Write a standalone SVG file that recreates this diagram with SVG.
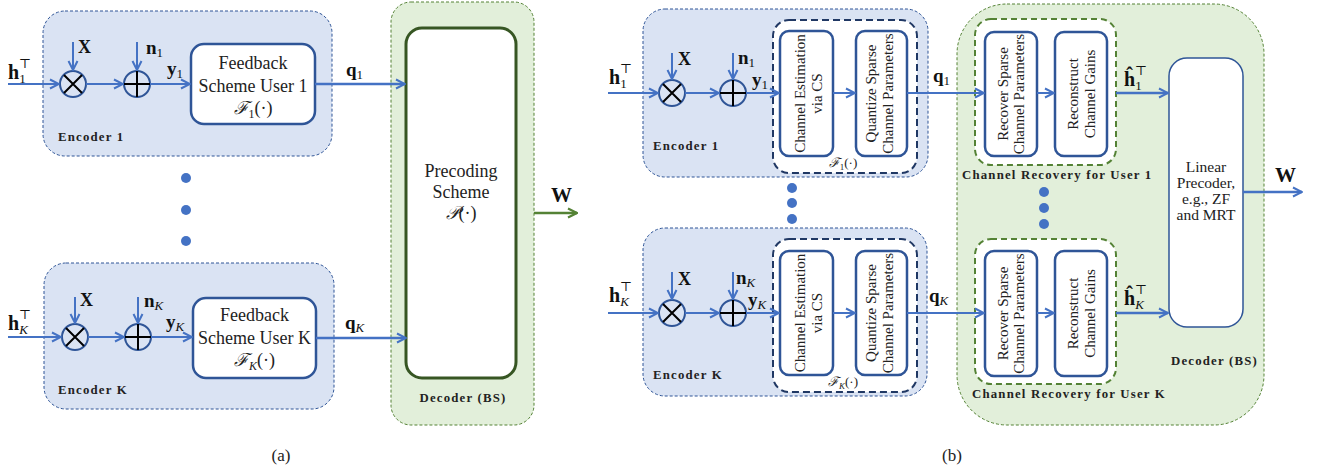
<svg xmlns="http://www.w3.org/2000/svg" width="1317" height="472" viewBox="0 0 1317 472">
<style>
.enc{fill:#DAE3F3;stroke:#2F5597;stroke-width:1;stroke-dasharray:3 2}
.dec{fill:#E2EFDA;stroke:#548235;stroke-width:1;stroke-dasharray:3 2}
.blk{fill:#fff;stroke:#2F5597;stroke-width:2.5}
.fdash{fill:#fff;stroke:#203864;stroke-width:2;stroke-dasharray:7 4}
.gdash{fill:#fff;stroke:#548235;stroke-width:2;stroke-dasharray:6 4}
.ar{stroke:#4472C4;stroke-width:2;fill:none}
.arw{stroke:#4472C4;stroke-width:2.6;fill:none}
.cir{fill:none;stroke:#2F5597;stroke-width:2}
.op{stroke:#000;stroke-width:2}
.t{font-family:"Liberation Serif","DejaVu Serif",serif;fill:#222}
.m{font-family:"Liberation Serif","DejaVu Serif",serif;fill:#111;font-weight:bold}
.s{font-weight:normal;font-style:italic}
.n{font-weight:normal}
.lb{font-family:"Liberation Serif","DejaVu Serif",serif;font-weight:bold;font-size:12.8px;letter-spacing:1.2px;fill:#222}
.dot{fill:#4472C4}
</style>
<defs>
<marker id="ah" viewBox="0 0 12 12" refX="11" refY="6" markerWidth="12" markerHeight="12" orient="auto" markerUnits="userSpaceOnUse"><path d="M2,1.5 L11,6 L2,10.5" fill="none" stroke="#4472C4" stroke-width="2"/></marker>
<marker id="ahg" viewBox="0 0 12 12" refX="11" refY="6" markerWidth="12" markerHeight="12" orient="auto" markerUnits="userSpaceOnUse"><path d="M2,1.5 L11,6 L2,10.5" fill="none" stroke="#548235" stroke-width="2.2"/></marker>
</defs>

<!-- ===== (a) ===== -->
<g id="a-decoder">
<rect class="dec" x="391" y="2" width="143" height="423" rx="20"/>
<text class="lb" x="463" y="402" text-anchor="middle">Decoder (BS)</text>
</g>
<g id="a-enc1">
<rect class="enc" x="43" y="11" width="289" height="145" rx="22"/>
<text class="lb" x="58" y="141">Encoder 1</text>
</g>
<g id="a-encK">
<rect class="enc" x="44" y="263" width="290" height="146" rx="22"/>
<text class="lb" x="58" y="394">Encoder K</text>
</g>
<g id="a-mul1"><circle class="cir" cx="73" cy="84" r="13"/><path class="op" d="M64,75 L82,93 M82,75 L64,93"/></g>
<g id="a-add1"><circle class="cir" cx="137" cy="84" r="13"/><path class="op" d="M124,84 H150 M137,71 V97"/></g>
<g id="a-mulK"><circle class="cir" cx="75" cy="337" r="13"/><path class="op" d="M66,328 L84,346 M84,328 L66,346"/></g>
<g id="a-addK"><circle class="cir" cx="138" cy="337" r="13"/><path class="op" d="M125,337 H151 M138,324 V350"/></g>
<g id="a-fb1">
<rect class="blk" x="191" y="44" width="124" height="80" rx="13"/>
<text class="t" font-size="18" text-anchor="middle"><tspan x="253" y="69">Feedback</tspan><tspan x="253" y="92">Scheme User 1</tspan></text>
<text class="t" font-size="18" x="253" y="114" text-anchor="middle"><tspan font-style="italic">ℱ</tspan><tspan font-size="12" dy="4">1</tspan><tspan dy="-4">(·)</tspan></text>
</g>
<g id="a-fbK">
<rect class="blk" x="193" y="298" width="123" height="80" rx="13"/>
<text class="t" font-size="18" text-anchor="middle"><tspan x="254.5" y="321">Feedback</tspan><tspan x="254.5" y="344">Scheme User K</tspan></text>
<text class="t" font-size="18" x="254.5" y="366" text-anchor="middle"><tspan font-style="italic">ℱ</tspan><tspan font-size="12" font-style="italic" dy="4">K</tspan><tspan dy="-4">(·)</tspan></text>
</g>
<g id="a-prec">
<rect x="406" y="28" width="110" height="350" rx="16" fill="#fff" stroke="#375623" stroke-width="3"/>
<text class="t" font-size="18" text-anchor="middle"><tspan x="461" y="177">Precoding</tspan><tspan x="461" y="198">Scheme</tspan></text>
<text class="t" font-size="18" x="461" y="219" text-anchor="middle"><tspan font-style="italic">𝒫</tspan>(·)</text>
</g>
<g id="a-dots"><circle class="dot" cx="186" cy="178" r="5"/><circle class="dot" cx="186" cy="210" r="5"/><circle class="dot" cx="186" cy="241" r="5"/></g>

<g id="a-connectors">
<line class="ar" x1="8" y1="84" x2="59" y2="84" marker-end="url(#ah)"/>
<line class="ar" x1="73" y1="42" x2="73" y2="70" marker-end="url(#ah)"/>
<line class="ar" x1="86" y1="84" x2="123" y2="84" marker-end="url(#ah)"/>
<line class="ar" x1="137" y1="42" x2="137" y2="70" marker-end="url(#ah)"/>
<line class="ar" x1="150" y1="84" x2="190" y2="84" marker-end="url(#ah)"/>
<line class="arw" x1="315" y1="84" x2="405" y2="84" marker-end="url(#ah)"/>
<line class="ar" x1="8" y1="337" x2="61" y2="337" marker-end="url(#ah)"/>
<line class="ar" x1="75" y1="297" x2="75" y2="323" marker-end="url(#ah)"/>
<line class="ar" x1="88" y1="337" x2="124" y2="337" marker-end="url(#ah)"/>
<line class="ar" x1="138" y1="297" x2="138" y2="323" marker-end="url(#ah)"/>
<line class="ar" x1="151" y1="337" x2="192" y2="337" marker-end="url(#ah)"/>
<line class="arw" x1="316" y1="338" x2="406" y2="338" marker-end="url(#ah)"/>
<line x1="534" y1="213" x2="577" y2="213" stroke="#548235" stroke-width="2.6" marker-end="url(#ahg)"/>
</g>
<g id="a-labels">
<text class="m" font-size="20" x="8" y="79">h<tspan class="n" font-size="13" dy="4">1</tspan><tspan class="n" font-size="13" dx="-7" dy="-15">⊤</tspan></text>
<text class="m" font-size="18" x="78" y="53">X</text>
<text class="m" font-size="19" x="146" y="54">n<tspan class="n" font-size="13" dy="3">1</tspan></text>
<text class="m" font-size="19" x="167" y="75">y<tspan class="n" font-size="13" dy="3">1</tspan></text>
<text class="m" font-size="19" x="346" y="76">q<tspan class="n" font-size="13" dy="3">1</tspan></text>
<text class="m" font-size="20" x="8" y="330">h<tspan class="s" font-size="13" dy="4">K</tspan><tspan class="n" font-size="13" dx="-9" dy="-15">⊤</tspan></text>
<text class="m" font-size="18" x="80" y="306">X</text>
<text class="m" font-size="19" x="144" y="307">n<tspan class="s" font-size="13" dy="3">K</tspan></text>
<text class="m" font-size="19" x="166" y="328">y<tspan class="s" font-size="13" dy="3">K</tspan></text>
<text class="m" font-size="19" x="345" y="329">q<tspan class="s" font-size="13" dy="3">K</tspan></text>
<text class="m" font-size="21" x="551" y="202">W</text>
<text class="t" font-size="17" x="281" y="461" text-anchor="middle">(a)</text>
</g>

<!-- ===== (b) ===== -->
<g id="b-decoder">
<rect class="dec" x="957" y="4" width="307" height="421" rx="50"/>
<text class="lb" x="1171" y="365">Decoder (BS)</text>
</g>
<g id="b-enc1">
<rect class="enc" x="643" y="9" width="285" height="168" rx="22"/>
<text class="lb" x="653" y="150">Encoder 1</text>
</g>
<g id="b-encK">
<rect class="enc" x="643" y="228" width="284" height="168" rx="22"/>
<text class="lb" x="653" y="379">Encoder K</text>
</g>
<g id="b-mul1"><circle class="cir" cx="672" cy="93" r="13"/><path class="op" d="M663,84 L681,102 M681,84 L663,102"/></g>
<g id="b-add1"><circle class="cir" cx="733" cy="93" r="13"/><path class="op" d="M720,93 H746 M733,80 V106"/></g>
<g id="b-mulK"><circle class="cir" cx="672" cy="313" r="13"/><path class="op" d="M663,304 L681,322 M681,304 L663,322"/></g>
<g id="b-addK"><circle class="cir" cx="733" cy="313" r="13"/><path class="op" d="M720,313 H746 M733,300 V326"/></g>

<g id="b-F1">
<rect class="fdash" x="773" y="20" width="144" height="153" rx="16"/>
<text class="t" font-size="13" x="843" y="167" text-anchor="middle"><tspan font-style="italic">ℱ</tspan><tspan font-size="9" dy="3">1</tspan><tspan dy="-3">(·)</tspan></text>
</g>
<g id="b-ce1">
<rect class="blk" x="780" y="31" width="53" height="125" rx="9"/>
<text class="t" font-size="15" text-anchor="middle" transform="translate(806.5,93.5) rotate(-90)"><tspan x="0" y="-1.5">Channel Estimation</tspan><tspan x="0" y="15">via CS</tspan></text>
</g>
<g id="b-qz1">
<rect class="blk" x="856" y="31" width="51" height="125" rx="9"/>
<text class="t" font-size="15" text-anchor="middle" transform="translate(881.5,93.5) rotate(-90)"><tspan x="0" y="-6">Quantize Sparse</tspan><tspan x="0" y="11">Channel Parameters</tspan></text>
</g>
<g id="b-FK">
<rect class="fdash" x="773" y="239" width="144" height="153" rx="16"/>
<text class="t" font-size="13" x="843" y="386" text-anchor="middle"><tspan font-style="italic">ℱ</tspan><tspan font-size="9" font-style="italic" dy="3">K</tspan><tspan dy="-3">(·)</tspan></text>
</g>
<g id="b-ceK">
<rect class="blk" x="780" y="251" width="53" height="124" rx="9"/>
<text class="t" font-size="15" text-anchor="middle" transform="translate(806.5,313) rotate(-90)"><tspan x="0" y="-1.5">Channel Estimation</tspan><tspan x="0" y="15">via CS</tspan></text>
</g>
<g id="b-qzK">
<rect class="blk" x="856" y="251" width="51" height="124" rx="9"/>
<text class="t" font-size="15" text-anchor="middle" transform="translate(881.5,313) rotate(-90)"><tspan x="0" y="-6">Quantize Sparse</tspan><tspan x="0" y="11">Channel Parameters</tspan></text>
</g>
<g id="b-dotsL"><circle class="dot" cx="792" cy="188" r="5"/><circle class="dot" cx="792" cy="203" r="5"/><circle class="dot" cx="792" cy="219" r="5"/></g>

<g id="b-cr1">
<rect class="gdash" x="975" y="19" width="141" height="146" rx="16"/>
<text class="lb" x="962" y="179">Channel Recovery for User 1</text>
</g>
<g id="b-rec1">
<rect class="blk" x="985" y="32" width="52" height="124" rx="9"/>
<text class="t" font-size="15" text-anchor="middle" transform="translate(1011,94) rotate(-90)"><tspan x="0" y="-3">Recover Sparse</tspan><tspan x="0" y="13">Channel Parameters</tspan></text>
</g>
<g id="b-rcg1">
<rect class="blk" x="1055" y="32" width="52" height="124" rx="9"/>
<text class="t" font-size="15" text-anchor="middle" transform="translate(1081,94) rotate(-90)"><tspan x="0" y="-3">Reconstruct</tspan><tspan x="0" y="13.5">Channel Gains</tspan></text>
</g>
<g id="b-crK">
<rect class="gdash" x="975" y="239" width="141" height="145" rx="16"/>
<text class="lb" x="972" y="398">Channel Recovery for User K</text>
</g>
<g id="b-recK">
<rect class="blk" x="985" y="251" width="52" height="125" rx="9"/>
<text class="t" font-size="15" text-anchor="middle" transform="translate(1011,313.5) rotate(-90)"><tspan x="0" y="-3">Recover Sparse</tspan><tspan x="0" y="13">Channel Parameters</tspan></text>
</g>
<g id="b-rcgK">
<rect class="blk" x="1055" y="251" width="52" height="125" rx="9"/>
<text class="t" font-size="15" text-anchor="middle" transform="translate(1081,313.5) rotate(-90)"><tspan x="0" y="-3">Reconstruct</tspan><tspan x="0" y="13.5">Channel Gains</tspan></text>
</g>
<g id="b-dotsR"><circle class="dot" cx="1044" cy="192" r="5"/><circle class="dot" cx="1044" cy="208" r="5"/><circle class="dot" cx="1044" cy="224" r="5"/></g>
<g id="b-lin">
<rect x="1169" y="58" width="74" height="269" rx="18" fill="#fff" stroke="#2F5597" stroke-width="1.5"/>
<text class="t" font-size="15.5" text-anchor="middle"><tspan x="1206" y="172">Linear</tspan><tspan x="1206" y="188">Precoder,</tspan><tspan x="1206" y="204">e.g., ZF</tspan><tspan x="1206" y="220">and MRT</tspan></text>
</g>

<g id="b-connectors">
<line class="ar" x1="608" y1="93" x2="658" y2="93" marker-end="url(#ah)"/>
<line class="ar" x1="672" y1="53" x2="672" y2="79" marker-end="url(#ah)"/>
<line class="ar" x1="685" y1="93" x2="719" y2="93" marker-end="url(#ah)"/>
<line class="ar" x1="733" y1="53" x2="733" y2="79" marker-end="url(#ah)"/>
<line class="ar" x1="746" y1="93" x2="779" y2="93" marker-end="url(#ah)"/>
<line class="ar" x1="833" y1="93" x2="855" y2="93" marker-end="url(#ah)"/>
<line class="ar" x1="907" y1="93" x2="984" y2="93" marker-end="url(#ah)"/>
<line class="ar" x1="1037" y1="93" x2="1054" y2="93" marker-end="url(#ah)"/>
<line class="arw" x1="1116" y1="93" x2="1168" y2="93" marker-end="url(#ah)"/>
<line class="ar" x1="608" y1="313" x2="658" y2="313" marker-end="url(#ah)"/>
<line class="ar" x1="672" y1="272" x2="672" y2="299" marker-end="url(#ah)"/>
<line class="ar" x1="685" y1="313" x2="719" y2="313" marker-end="url(#ah)"/>
<line class="ar" x1="733" y1="272" x2="733" y2="299" marker-end="url(#ah)"/>
<line class="ar" x1="746" y1="313" x2="779" y2="313" marker-end="url(#ah)"/>
<line class="ar" x1="833" y1="313" x2="855" y2="313" marker-end="url(#ah)"/>
<line class="ar" x1="907" y1="313" x2="984" y2="313" marker-end="url(#ah)"/>
<line class="ar" x1="1037" y1="313" x2="1054" y2="313" marker-end="url(#ah)"/>
<line class="arw" x1="1116" y1="313" x2="1168" y2="313" marker-end="url(#ah)"/>
<line class="arw" x1="1243" y1="192" x2="1302" y2="192" marker-end="url(#ah)"/>
</g>
<g id="b-labels">
<text class="m" font-size="20" x="609" y="84">h<tspan class="n" font-size="13" dy="4">1</tspan><tspan class="n" font-size="13" dx="-7" dy="-15">⊤</tspan></text>
<text class="m" font-size="18" x="678" y="65">X</text>
<text class="m" font-size="19" x="738" y="64">n<tspan class="n" font-size="13" dy="3">1</tspan></text>
<text class="m" font-size="19" x="752" y="86">y<tspan class="n" font-size="13" dy="3">1</tspan></text>
<text class="m" font-size="19" x="933" y="82">q<tspan class="n" font-size="13" dy="3">1</tspan></text>
<text class="m" font-size="20" x="609" y="302">h<tspan class="s" font-size="13" dy="4">K</tspan><tspan class="n" font-size="13" dx="-9" dy="-15">⊤</tspan></text>
<text class="m" font-size="18" x="678" y="285">X</text>
<text class="m" font-size="19" x="736" y="284">n<tspan class="s" font-size="13" dy="3">K</tspan></text>
<text class="m" font-size="19" x="748" y="306">y<tspan class="s" font-size="13" dy="3">K</tspan></text>
<text class="m" font-size="19" x="929" y="302">q<tspan class="s" font-size="13" dy="3">K</tspan></text>
<text class="m" font-size="20" x="1124" y="86">ĥ<tspan class="n" font-size="13" dy="4">1</tspan><tspan class="n" font-size="13" dx="-7" dy="-15">⊤</tspan></text>
<text class="m" font-size="20" x="1124" y="305">ĥ<tspan class="s" font-size="13" dy="4">K</tspan><tspan class="n" font-size="13" dx="-9" dy="-15">⊤</tspan></text>
<text class="m" font-size="21" x="1275" y="182">W</text>
<text class="t" font-size="17" x="952" y="461" text-anchor="middle">(b)</text>
</g>
</svg>
